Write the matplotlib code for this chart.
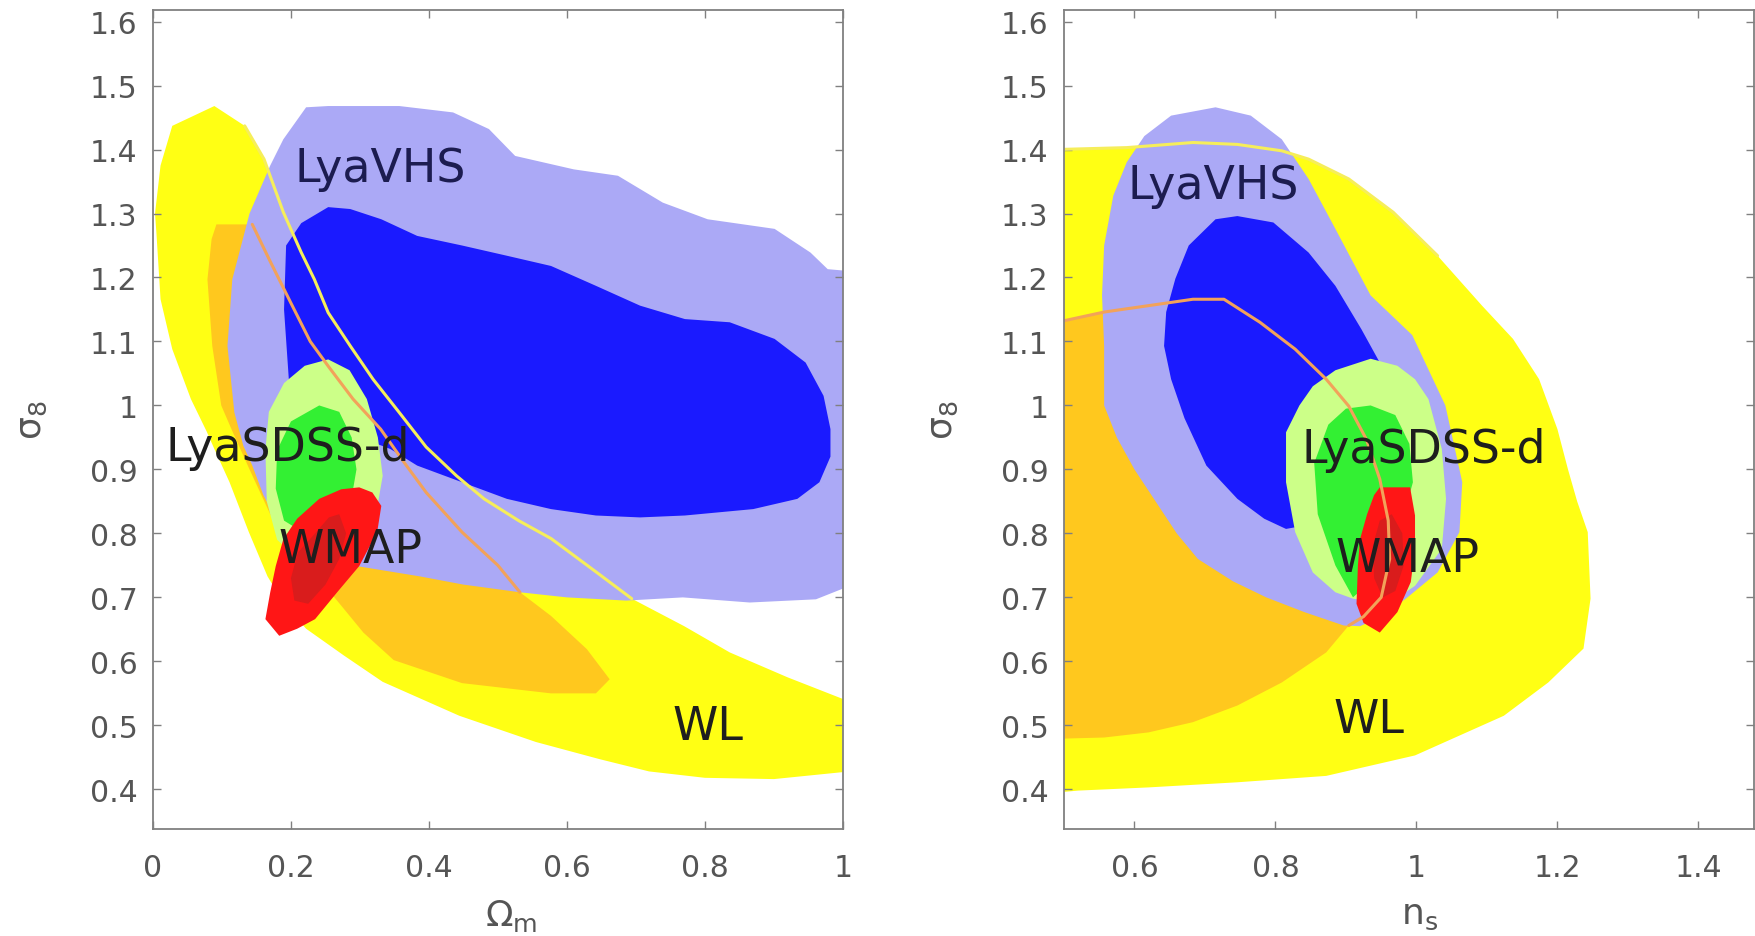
import matplotlib
matplotlib.use("Agg")
import matplotlib.pyplot as plt

plt.rcParams['font.family'] = ['DejaVu Sans']
plt.rcParams['mathtext.fontset'] = 'dejavusans'

# ---- sigma_8 vs Omega_m : confidence regions (x list, y list) ----
om_wl95_x = [0.089, 0.133, 0.161, 0.189, 0.215, 0.234, 0.254, 0.286, 0.319, 0.357, 0.396, 0.44,
             0.48, 0.53, 0.577, 0.642, 0.694, 0.77, 0.836, 0.92, 1.01, 1.01, 0.9, 0.8, 0.719,
             0.648, 0.555, 0.444, 0.333, 0.277, 0.222, 0.19, 0.166, 0.139, 0.111, 0.089, 0.078,
             0.055, 0.028, 0.011, 0.005, 0.003, 0.011, 0.028]
om_wl95_y = [1.468, 1.437, 1.385, 1.302, 1.239, 1.197, 1.145, 1.093, 1.041, 0.989, 0.935, 0.89,
             0.854, 0.82, 0.792, 0.74, 0.698, 0.655, 0.614, 0.575, 0.537, 0.428, 0.416, 0.418,
             0.428, 0.447, 0.474, 0.515, 0.568, 0.609, 0.651, 0.69, 0.733, 0.802, 0.88, 0.932,
             0.959, 1.01, 1.088, 1.166, 1.27, 1.30, 1.375, 1.437]

om_wl68_x = [0.092, 0.144, 0.17, 0.2, 0.228, 0.255, 0.29, 0.33, 0.364, 0.396, 0.448, 0.5, 0.532,
             0.577, 0.629, 0.662, 0.642, 0.577, 0.448, 0.349, 0.305, 0.273, 0.24, 0.2, 0.17,
             0.14, 0.115, 0.099, 0.086, 0.079, 0.085]
om_wl68_y = [1.283, 1.283, 1.225, 1.16, 1.10, 1.06, 1.01, 0.963, 0.911, 0.864, 0.802, 0.75, 0.708,
             0.671, 0.619, 0.572, 0.55, 0.55, 0.566, 0.602, 0.645, 0.687, 0.73, 0.78, 0.83,
             0.9, 0.96, 1.0, 1.093, 1.197, 1.26]

om_vhs95_x = [0.222, 0.254, 0.357, 0.435, 0.487, 0.525, 0.61, 0.674, 0.739, 0.804, 0.901, 0.953,
              0.978, 1.01, 1.01, 0.961, 0.865, 0.768, 0.686, 0.6, 0.532, 0.45, 0.386, 0.295,
              0.24, 0.19, 0.16, 0.144, 0.131, 0.118, 0.108, 0.115, 0.14, 0.170, 0.189]
om_vhs95_y = [1.466, 1.468, 1.468, 1.458, 1.432, 1.39, 1.369, 1.359, 1.317, 1.291, 1.276, 1.239,
              1.213, 1.21, 0.718, 0.697, 0.692, 0.70, 0.695, 0.70, 0.708, 0.72, 0.733, 0.749,
              0.76, 0.80, 0.86, 0.906, 0.937, 0.989, 1.093, 1.197, 1.30, 1.375, 1.416]

om_vhs68_x = [0.254, 0.286, 0.331, 0.383, 0.448, 0.513, 0.577, 0.642, 0.706, 0.771, 0.836, 0.901,
              0.946, 0.972, 0.982, 0.982, 0.966, 0.934, 0.87, 0.771, 0.706, 0.642, 0.577, 0.513,
              0.448, 0.383, 0.344, 0.3, 0.26, 0.22, 0.197, 0.19, 0.193, 0.215]
om_vhs68_y = [1.31, 1.307, 1.291, 1.265, 1.25, 1.234, 1.218, 1.187, 1.156, 1.135, 1.13, 1.104,
              1.067, 1.015, 0.963, 0.92, 0.88, 0.854, 0.838, 0.828, 0.825, 0.828, 0.838, 0.854,
              0.88, 0.906, 0.932, 0.95, 0.97, 0.99, 1.04, 1.15, 1.25, 1.285]

om_sdss95_x = [0.254, 0.285, 0.31, 0.326, 0.333, 0.325, 0.3, 0.26, 0.21, 0.18, 0.165, 0.163,
               0.168, 0.19, 0.22]
om_sdss95_y = [1.072, 1.055, 1.01, 0.95, 0.89, 0.84, 0.79, 0.76, 0.76, 0.79, 0.85, 0.93,
               0.99, 1.035, 1.062]

om_sdss68_x = [0.241, 0.27, 0.288, 0.295, 0.287, 0.26, 0.22, 0.19, 0.178, 0.18, 0.2]
om_sdss68_y = [1.0, 0.99, 0.95, 0.9, 0.85, 0.81, 0.80, 0.82, 0.87, 0.93, 0.975]

om_wmap95_x = [0.299, 0.318, 0.331, 0.325, 0.299, 0.267, 0.235, 0.209, 0.183, 0.163, 0.17,
               0.178, 0.189, 0.209, 0.241, 0.273]
om_wmap95_y = [0.872, 0.864, 0.843, 0.802, 0.749, 0.708, 0.666, 0.651, 0.64, 0.666, 0.708,
               0.749, 0.791, 0.823, 0.854, 0.869]

om_wmap68_x = [0.27, 0.28, 0.27, 0.25, 0.225, 0.205, 0.2, 0.21, 0.235, 0.255]
om_wmap68_y = [0.83, 0.80, 0.76, 0.72, 0.69, 0.695, 0.73, 0.77, 0.80, 0.825]

# ---- sigma_8 vs n_s ----
ns_wl95_x = [0.49, 0.589, 0.683, 0.746, 0.809, 0.847, 0.904, 0.967, 1.03, 1.093, 1.137, 1.174,
             1.2, 1.215, 1.228, 1.243, 1.247, 1.237, 1.187, 1.124, 0.998, 0.872, 0.746, 0.62,
             0.52, 0.49]
ns_wl95_y = [1.40, 1.403, 1.411, 1.408, 1.398, 1.385, 1.354, 1.302, 1.234, 1.156, 1.104, 1.041,
             0.963, 0.9, 0.85, 0.802, 0.698, 0.62, 0.567, 0.515, 0.453, 0.421, 0.411, 0.403,
             0.398, 0.395]

ns_wl68_x = [0.49, 0.557, 0.62, 0.683, 0.727, 0.778, 0.828, 0.872, 0.904, 0.929, 0.948, 0.96,
             0.962, 0.95, 0.925, 0.904, 0.872, 0.809, 0.746, 0.683, 0.62, 0.557, 0.49]
ns_wl68_y = [1.13, 1.146, 1.156, 1.166, 1.166, 1.13, 1.088, 1.041, 0.999, 0.947, 0.885, 0.82,
             0.76, 0.70, 0.67, 0.656, 0.614, 0.567, 0.531, 0.505, 0.489, 0.481, 0.479]

ns_vhs95_x = [0.715, 0.765, 0.809, 0.847, 0.885, 0.935, 0.994, 1.041, 1.065, 1.061, 1.03, 0.985,
              0.95, 0.92, 0.897, 0.841, 0.787, 0.74, 0.69, 0.66, 0.63, 0.6, 0.575, 0.557, 0.557,
              0.554, 0.557, 0.57, 0.589, 0.614, 0.652]
ns_vhs95_y = [1.466, 1.453, 1.416, 1.354, 1.276, 1.172, 1.11, 1.0, 0.88, 0.802, 0.739, 0.698,
              0.67, 0.655, 0.656, 0.677, 0.70, 0.725, 0.76, 0.8, 0.85, 0.9, 0.95, 1.0, 1.093,
              1.172, 1.25, 1.328, 1.38, 1.421, 1.453]

ns_vhs68_x = [0.746, 0.797, 0.847, 0.885, 0.922, 0.948, 0.96, 0.955, 0.93, 0.88, 0.815, 0.784,
              0.746, 0.702, 0.671, 0.652, 0.642, 0.645, 0.658, 0.677, 0.715]
ns_vhs68_y = [1.296, 1.286, 1.239, 1.187, 1.119, 1.067, 1.0, 0.93, 0.86, 0.82, 0.807, 0.823,
              0.854, 0.906, 0.98, 1.041, 1.093, 1.146, 1.198, 1.25, 1.291]

ns_sdss95_x = [0.935, 0.973, 0.998, 1.017, 1.036, 1.042, 1.036, 0.998, 0.96, 0.91, 0.885, 0.853,
               0.828, 0.815, 0.815, 0.834, 0.853, 0.885]
ns_sdss95_y = [1.073, 1.062, 1.041, 1.01, 0.932, 0.854, 0.776, 0.718, 0.69, 0.698, 0.708, 0.739,
               0.802, 0.88, 0.958, 1.0, 1.03, 1.055]

ns_sdss68_x = [0.935, 0.97, 0.99, 0.995, 0.98, 0.95, 0.91, 0.885, 0.86, 0.855, 0.875, 0.9]
ns_sdss68_y = [1.0, 0.985, 0.94, 0.88, 0.82, 0.74, 0.70, 0.75, 0.83, 0.91, 0.97, 0.995]

ns_wmap95_x = [0.948, 0.991, 0.998, 0.998, 0.992, 0.973, 0.948, 0.925, 0.915, 0.917, 0.92, 0.93, 0.94]
ns_wmap95_y = [0.872, 0.872, 0.828, 0.776, 0.724, 0.677, 0.645, 0.66, 0.69, 0.75, 0.791, 0.83, 0.86]

ns_wmap68_x = [0.965, 0.98, 0.982, 0.97, 0.952, 0.94, 0.938, 0.948]
ns_wmap68_y = [0.83, 0.80, 0.75, 0.71, 0.70, 0.73, 0.78, 0.82]

# stretch of each WL contour that is traced as a line over the other regions (vertex range)
om_wl95_trace = (1, 16)
om_wl68_trace = (1, 12)
ns_wl95_trace = (0, 8)
ns_wl68_trace = (0, 15)

# label text and anchor (left edge, baseline)
om_labels = [("LyaVHS", 0.205, 1.351), ("LyaSDSS-d", 0.018, 0.914),
             ("WMAP", 0.182, 0.756), ("WL", 0.753, 0.478)]
ns_labels = [("LyaVHS", 0.59, 1.325), ("LyaSDSS-d", 0.837, 0.911),
             ("WMAP", 0.885, 0.742), ("WL", 0.882, 0.489)]

y_ticks = [0.4, 0.5, 0.6, 0.7, 0.8, 0.9, 1.0, 1.1, 1.2, 1.3, 1.4, 1.5, 1.6]
y_ticklabels = ["0.4", "0.5", "0.6", "0.7", "0.8", "0.9", "1", "1.1", "1.2", "1.3", "1.4", "1.5", "1.6"]
om_ticks = [0, 0.2, 0.4, 0.6, 0.8, 1.0]
om_ticklabels = ["0", "0.2", "0.4", "0.6", "0.8", "1"]
ns_ticks = [0.6, 0.8, 1.0, 1.2, 1.4]
ns_ticklabels = ["0.6", "0.8", "1", "1.2", "1.4"]

YELLOW = '#ffff14'
ORANGE = '#ffc81e'
LAVENDER = '#aba9f6'
BLUE = '#1a1aff'
LIGHTGREEN = '#ccff88'
GREEN = '#33f033'
RED = '#ff1616'
DARKRED = '#d91c1c'
YELLOW_LINE = '#f6ee5a'
ORANGE_LINE = '#f2a25a'
GREY = '#808080'


def draw_panel(ax, wl95, wl68, vhs95, vhs68, sdss95, sdss68, wmap95, wmap68,
               trace95, trace68, labels):
    ax.fill(*wl95, color=YELLOW, lw=0)
    ax.fill(*wl68, color=ORANGE, lw=0)
    ax.fill(*vhs95, color=LAVENDER, lw=0)
    ax.fill(*vhs68, color=BLUE, lw=0)
    ax.fill(*sdss95, color=LIGHTGREEN, lw=0)
    ax.fill(*sdss68, color=GREEN, lw=0)
    # WL outlines stay visible over the Lyman-alpha regions
    a, b = trace95
    ax.plot(wl95[0][a:b + 1], wl95[1][a:b + 1], color=YELLOW_LINE, lw=2.2,
            solid_capstyle='round')
    a, b = trace68
    ax.plot(wl68[0][a:b + 1], wl68[1][a:b + 1], color=ORANGE_LINE, lw=2.2,
            solid_capstyle='round')
    ax.fill(*wmap95, color=RED, lw=0)
    ax.fill(*wmap68, color=DARKRED, lw=0)
    for text, x, y in labels:
        col = '#1c1c50' if text == "LyaVHS" else '#1e1e1e'
        ax.text(x, y, text, fontsize=33, color=col, ha='left', va='baseline')


def style_axes(ax, xlim, xticks, xticklabels, xlabel, xlabel_x):
    ax.set_xlim(*xlim)
    ax.set_ylim(0.338, 1.618)
    ax.set_xticks(xticks)
    ax.set_xticklabels(xticklabels)
    ax.set_yticks(y_ticks)
    ax.set_yticklabels(y_ticklabels)
    ax.tick_params(direction='in', length=6, width=1, color=GREY, labelcolor='#555555',
                   labelsize=21.5, top=True, right=True)
    ax.tick_params(axis='x', pad=17)
    ax.tick_params(axis='y', pad=11)
    for s in ax.spines.values():
        s.set_color(GREY)
        s.set_linewidth(1.3)
    ax.text(xlabel_x, -0.083, xlabel, transform=ax.transAxes, ha='center', va='top',
            fontsize=26, color='#555555')
    ax.text(-0.175, 0.5, r'$\mathrm{\sigma}_8$', transform=ax.transAxes, rotation=90,
            ha='center', va='center', fontsize=26, color='#555555')


fig = plt.figure(figsize=(17.56, 9.37), dpi=100)
ax1 = fig.add_axes([0.0871, 0.1142, 0.3929, 0.8740])
ax2 = fig.add_axes([0.6059, 0.1142, 0.3929, 0.8740])

draw_panel(ax1, (om_wl95_x, om_wl95_y), (om_wl68_x, om_wl68_y), (om_vhs95_x, om_vhs95_y),
           (om_vhs68_x, om_vhs68_y), (om_sdss95_x, om_sdss95_y), (om_sdss68_x, om_sdss68_y),
           (om_wmap95_x, om_wmap95_y), (om_wmap68_x, om_wmap68_y),
           om_wl95_trace, om_wl68_trace, om_labels)
style_axes(ax1, (0, 1), om_ticks, om_ticklabels, r'$\mathrm{\Omega}_\mathrm{m}$', 0.52)

draw_panel(ax2, (ns_wl95_x, ns_wl95_y), (ns_wl68_x, ns_wl68_y), (ns_vhs95_x, ns_vhs95_y),
           (ns_vhs68_x, ns_vhs68_y), (ns_sdss95_x, ns_sdss95_y), (ns_sdss68_x, ns_sdss68_y),
           (ns_wmap95_x, ns_wmap95_y), (ns_wmap68_x, ns_wmap68_y),
           ns_wl95_trace, ns_wl68_trace, ns_labels)
style_axes(ax2, (0.5, 1.4787), ns_ticks, ns_ticklabels, r'$\mathrm{n}_\mathrm{s}$', 0.515)

fig.savefig('out.png', dpi=100, facecolor='white')
